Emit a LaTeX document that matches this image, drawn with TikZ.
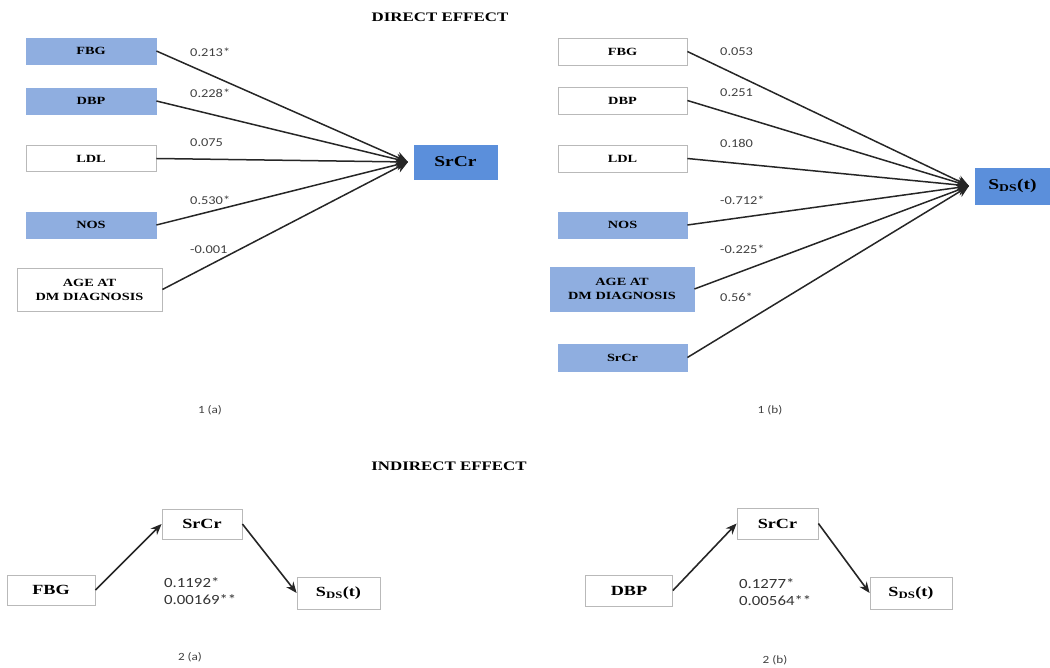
\documentclass[tikz,border=0pt]{standalone}
\usepackage{fontspec}
\setmainfont{Liberation Serif}
\newfontfamily\boxfont[FakeStretch=1.3]{Liberation Serif}
\newfontfamily\coeffont[FakeStretch=1.2]{Carlito}
\usetikzlibrary{arrows.meta,positioning}
\definecolor{varblue}{RGB}{143,174,224}
\definecolor{outblue}{RGB}{91,143,219}
\tikzset{
  var/.style={draw=gray!55,fill=white,line width=0.8pt,minimum width=130pt,minimum height=26pt,
    inner sep=0pt,align=center,font=\boxfont\bfseries\fontsize{11}{14}\selectfont},
  sigvar/.style={var,fill=varblue,draw=varblue},
  outvar/.style={var,fill=outblue,draw=outblue,font=\boxfont\bfseries\fontsize{15}{16}\selectfont},
  smallvar/.style={var,minimum height=30pt,font=\boxfont\bfseries\fontsize{14}{15}\selectfont},
  fan/.style={line width=1.5pt,draw=black!85,-{Stealth[length=12pt,width=11pt]}},
  ind/.style={line width=1.6pt,draw=black!85,-{Stealth[length=11pt,width=9pt]}},
  coef/.style={anchor=west,inner sep=0pt,text=black!75,font=\coeffont\fontsize{12}{13}\selectfont},
  coefbig/.style={anchor=west,inner sep=0pt,align=left,text=black!80,font=\coeffont\fontsize{14}{17}\selectfont},
  capt/.style={inner sep=0pt,text=black!75,font=\coeffont\fontsize{11}{12}\selectfont},
  heading/.style={inner sep=0pt,font=\boxfont\bfseries\fontsize{13}{14}\selectfont}
}
\newcommand{\sds}{S\textsubscript{DS}(t)}

\begin{document}
\begin{tikzpicture}[x=1pt,y=-1pt]
  \useasboundingbox (0,0) rectangle (1050,668);

  \node[heading] (direct) at (440,17) {DIRECT EFFECT};

  % 1 (a)
  \node[sigvar] (fbgA) at (91,51) {FBG};
  \node[sigvar] (dbpA) at (91,101) {DBP};
  \node[var] (ldlA) at (91,158.5) {LDL};
  \node[sigvar] (nosA) at (91,225) {NOS};
  \node[var,minimum width=145pt,minimum height=43pt] (ageA) at (89.5,289.5) {AGE AT\\DM DIAGNOSIS};
  \node[outvar,minimum width=83pt,minimum height=34pt] (srcrA) at (455.5,162) {SrCr};
  \coordinate (tipA) at (408,162);
  \foreach \v in {fbgA,dbpA,ldlA,nosA,ageA}
    \draw[fan] (\v.east) -- (tipA);
  \node[coef] (cA1) at (190,52) {0.213*};
  \node[coef] (cA2) at (190,93) {0.228*};
  \node[coef] (cA3) at (190,143) {0.075};
  \node[coef] (cA4) at (190,200) {0.530*};
  \node[coef] (cA5) at (190,250) {-0.001};
  \node[capt] (captA) at (210,410) {1 (a)};

  % 1 (b)
  \node[var,minimum width=129pt,minimum height=27pt] (fbgB) at (622.5,51.5) {FBG};
  \node[var,minimum width=129pt,minimum height=27pt] (dbpB) at (622.5,100.5) {DBP};
  \node[var,minimum width=129pt,minimum height=27pt] (ldlB) at (622.5,158.5) {LDL};
  \node[sigvar,minimum width=129pt] (nosB) at (622.5,225) {NOS};
  \node[sigvar,minimum width=144pt,minimum height=44pt] (ageB) at (622,289) {AGE AT\\DM DIAGNOSIS};
  \node[sigvar,minimum width=129pt,minimum height=27pt] (srcrB) at (622.5,357.5) {SrCr};
  \node[outvar,minimum width=75pt,minimum height=36pt] (sdsB) at (1012.5,186) {\sds};
  \coordinate (tipB) at (969,186);
  \foreach \v in {fbgB,dbpB,ldlB,nosB,ageB,srcrB}
    \draw[fan] (\v.east) -- (tipB);
  \node[coef] (cB1) at (720,52) {0.053};
  \node[coef] (cB2) at (720,93) {0.251};
  \node[coef] (cB3) at (720,143) {0.180};
  \node[coef] (cB4) at (720,200) {-0.712*};
  \node[coef] (cB5) at (720,249) {-0.225*};
  \node[coef] (cB6) at (720,297) {0.56*};
  \node[capt] (captB) at (770,410) {1 (b)};

  \node[heading] (indirect) at (449,466) {INDIRECT EFFECT};

  % 2 (a)
  \node[smallvar,minimum width=88pt] (fbgC) at (51,590) {FBG};
  \node[smallvar,minimum width=80pt] (srcrC) at (202,524) {SrCr};
  \node[smallvar,minimum width=83pt,minimum height=32pt] (sdsC) at (338.5,593) {\sds};
  \draw[ind] (fbgC.east) -- (srcrC.west);
  \draw[ind] (srcrC.east) -- (sdsC.west);
  \node[coefbig] (cC) at (164,591) {0.1192*\\0.00169**};
  \node[capt] (captC) at (190,657) {2 (a)};

  % 2 (b)
  \node[smallvar,minimum width=87pt,minimum height=31pt] (dbpD) at (629,590.5) {DBP};
  \node[smallvar,minimum width=81pt,minimum height=31pt] (srcrD) at (777.5,523.5) {SrCr};
  \node[smallvar,minimum width=82pt,minimum height=32pt] (sdsD) at (911,593) {\sds};
  \draw[ind] (dbpD.east) -- (srcrD.west);
  \draw[ind] (srcrD.east) -- (sdsD.west);
  \node[coefbig] (cD) at (739,592) {0.1277*\\0.00564**};
  \node[capt] (captD) at (775,660) {2 (b)};
\end{tikzpicture}
\end{document}
